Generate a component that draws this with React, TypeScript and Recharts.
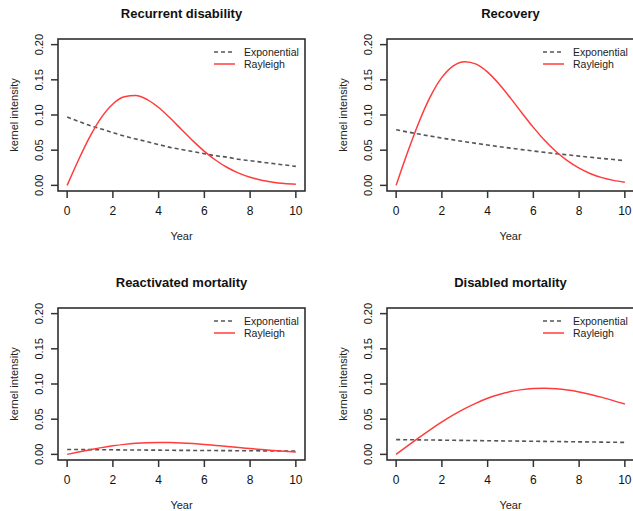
import React from 'react';
import { LineChart, Line, XAxis, YAxis, Legend, ReferenceArea, Label } from 'recharts';

const years = [0, 0.5, 1, 1.5, 2, 2.5, 3, 3.5, 4, 4.5, 5, 5.5, 6, 6.5, 7, 7.5, 8, 8.5, 9, 9.5, 10];
const xTicks = [0, 2, 4, 6, 8, 10];
const yTicks = [0, 0.05, 0.1, 0.15, 0.2];

// Recurrent disability
const recurrentExp = [0.097, 0.091, 0.085, 0.080, 0.075, 0.070, 0.066, 0.062, 0.058, 0.054, 0.051, 0.048, 0.045, 0.042, 0.040, 0.037, 0.035, 0.033, 0.031, 0.029, 0.027];
const recurrentRay = [0, 0.0364, 0.0696, 0.0967, 0.1157, 0.1259, 0.1276, 0.1219, 0.1106, 0.0957, 0.0794, 0.0632, 0.0484, 0.0357, 0.0254, 0.0174, 0.0115, 0.0074, 0.0045, 0.0027, 0.0016];

// Recovery
const recoveryExp = [0.079, 0.0759, 0.0729, 0.070, 0.0673, 0.0646, 0.0621, 0.0596, 0.0573, 0.055, 0.0529, 0.0508, 0.0488, 0.0469, 0.045, 0.0433, 0.0416, 0.0399, 0.0383, 0.0368, 0.035];
const recoveryRay = [0, 0.0469, 0.0901, 0.1264, 0.1534, 0.1699, 0.1758, 0.1723, 0.161, 0.1441, 0.124, 0.1029, 0.0824, 0.0637, 0.0478, 0.0347, 0.0244, 0.0166, 0.011, 0.0071, 0.0044];

// Reactivated mortality
const reactExp = [0.007, 0.0069, 0.0067, 0.0066, 0.0065, 0.0063, 0.0062, 0.0061, 0.006, 0.0058, 0.0057, 0.0056, 0.0055, 0.0054, 0.0053, 0.0052, 0.0051, 0.005, 0.0049, 0.0048, 0.0047];
const reactRay = [0, 0.0034, 0.0066, 0.0096, 0.0121, 0.0142, 0.0157, 0.0166, 0.017, 0.0168, 0.0162, 0.0153, 0.0141, 0.0126, 0.0112, 0.0096, 0.0082, 0.0068, 0.0055, 0.0044, 0.0035];

// Disabled mortality
const disabledExp = [0.021, 0.0208, 0.0206, 0.0204, 0.0202, 0.02, 0.0198, 0.0196, 0.0194, 0.0192, 0.019, 0.0188, 0.0186, 0.0184, 0.0182, 0.018, 0.0178, 0.0176, 0.0174, 0.0172, 0.017];
const disabledRay = [0, 0.0121, 0.0239, 0.0353, 0.0461, 0.0561, 0.0651, 0.0729, 0.0797, 0.0851, 0.0892, 0.092, 0.0935, 0.0939, 0.0932, 0.0914, 0.0887, 0.0851, 0.081, 0.0764, 0.0714];

const font = '"Liberation Sans", Arial, sans-serif';
const RED = '#ff3c3c';
const GREY = '#555555';

const XTick = (props: any) => (
  <text x={props.x} y={props.y} textAnchor="middle" dominantBaseline="central" fontSize={12} fill="#111" fontFamily={font}>
    {props.payload.value}
  </text>
);

const YTick = (props: any) => (
  <text
    x={props.x}
    y={props.y}
    transform={`rotate(-90 ${props.x} ${props.y})`}
    textAnchor="middle"
    dominantBaseline="central"
    fontSize={11}
    fill="#111"
    fontFamily={font}
  >
    {props.payload.value.toFixed(2)}
  </text>
);

const YLabel = (props: any) => {
  const vb = props.viewBox;
  const cx = vb.x + 14;
  const cy = vb.y + vb.height / 2;
  return (
    <text x={cx} y={cy} transform={`rotate(-90 ${cx} ${cy})`} textAnchor="middle" dominantBaseline="central" fontSize={11} fill="#222" fontFamily={font}>
      kernel intensity
    </text>
  );
};

const LegendBox = () => (
  <div style={{ fontFamily: font, fontSize: 10.5, color: '#222', lineHeight: '12px' }}>
    <div style={{ display: 'flex', alignItems: 'center' }}>
      <svg width={30} height={12}>
        <line x1={0} y1={6} x2={21} y2={6} stroke={GREY} strokeWidth={1.6} strokeDasharray="4 3" />
      </svg>
      <span>Exponential</span>
    </div>
    <div style={{ display: 'flex', alignItems: 'center' }}>
      <svg width={30} height={12}>
        <line x1={0} y1={6} x2={21} y2={6} stroke={RED} strokeWidth={1.5} />
      </svg>
      <span>Rayleigh</span>
    </div>
  </div>
);

type PanelProps = { title: string; exp: number[]; ray: number[]; left: number; top: number };

const Panel = ({ title, exp, ray, left, top }: PanelProps) => {
  const data = years.map((t, i) => ({ t, exp: exp[i], ray: ray[i] }));
  return (
    <div style={{ position: 'absolute', left, top, width: 316, height: 250 }}>
      <div
        style={{
          position: 'absolute',
          left: 58,
          top: 6,
          width: 247,
          textAlign: 'center',
          fontFamily: font,
          fontWeight: 'bold',
          fontSize: 13,
          lineHeight: '16px',
          color: '#111',
        }}
      >
        {title}
      </div>
      <LineChart width={316} height={250} data={data} margin={{ top: 39, right: 11, bottom: 0, left: 0 }}>
        <XAxis
          dataKey="t"
          type="number"
          domain={[-0.4, 10.4]}
          ticks={xTicks}
          allowDataOverflow
          axisLine={false}
          tickLine={{ stroke: '#333', strokeWidth: 1.5 }}
          tickSize={7}
          tickMargin={13}
          tick={XTick}
          height={59}
          interval={0}
        >
          <Label value="Year" position="insideBottom" offset={10} fontSize={11} fill="#222" fontFamily={font} />
        </XAxis>
        <YAxis
          type="number"
          domain={[-0.008, 0.208]}
          ticks={yTicks}
          allowDataOverflow
          axisLine={false}
          tickLine={{ stroke: '#333', strokeWidth: 1.5 }}
          tickSize={7}
          tickMargin={12}
          tick={YTick}
          width={58}
          interval={0}
        >
          <Label content={YLabel} />
        </YAxis>
        <Legend
          layout="horizontal"
          verticalAlign="middle"
          align="center"
          content={LegendBox}
          wrapperStyle={{ position: 'absolute', left: 214, top: 46, width: 102, height: 26 }}
        />
        <Line type="monotone" dataKey="exp" stroke={GREY} strokeWidth={1.6} strokeDasharray="4 3" dot={false} isAnimationActive={false} />
        <Line type="monotone" dataKey="ray" stroke={RED} strokeWidth={1.5} dot={false} isAnimationActive={false} />
        <ReferenceArea x1={-0.4} x2={10.4} y1={-0.008} y2={0.208} fill="none" stroke="#222" strokeWidth={1.5} ifOverflow="visible" />
      </LineChart>
    </div>
  );
};

export default function App() {
  return (
    <div style={{ position: 'absolute', left: 0, top: 0, width: 633, height: 511, overflow: 'hidden', background: '#fff' }}>
      <Panel title="Recurrent disability" exp={recurrentExp} ray={recurrentRay} left={0} top={0} />
      <Panel title="Recovery" exp={recoveryExp} ray={recoveryRay} left={329} top={0} />
      <Panel title="Reactivated mortality" exp={reactExp} ray={reactRay} left={0} top={269} />
      <Panel title="Disabled mortality" exp={disabledExp} ray={disabledRay} left={329} top={269} />
    </div>
  );
}
